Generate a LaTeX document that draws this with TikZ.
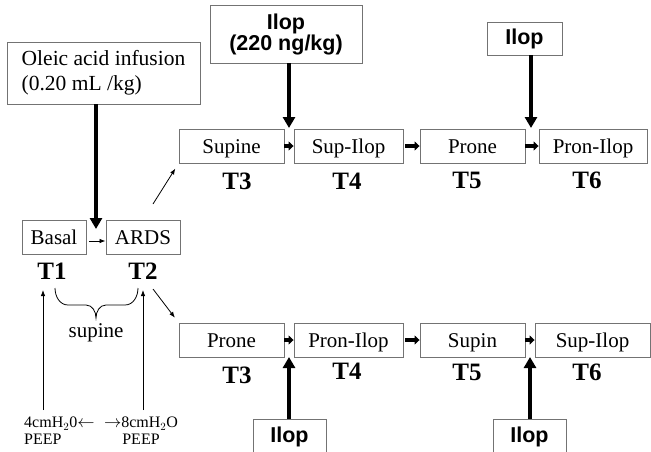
\documentclass[tikz,border=0pt]{standalone}
\usepackage{fontspec}
\setmainfont{Liberation Serif}
\newfontfamily\ilopfont{Liberation Sans}
\usepackage{xcolor}
\usetikzlibrary{arrows.meta}
\definecolor{boxgray}{RGB}{115,115,115}

\begin{document}
\begin{tikzpicture}[x=1pt,y=-1pt,
  phase/.style={draw=boxgray, line width=0.9pt, minimum height=34pt, inner sep=0pt, text height=14pt, text depth=0pt, font=\fontsize{21}{25}\selectfont},
  ilopbox/.style={draw=boxgray, line width=0.9pt, inner sep=0pt, align=center, font=\ilopfont\bfseries\fontsize{21.5}{21}\selectfont},
  tlabel/.style={inner sep=0pt, font=\fontsize{25}{28}\selectfont\bfseries},
  peep/.style={inner sep=0pt, font=\fontsize{16}{16.5}\selectfont},
  thinarrow/.style={-{Latex[length=6pt,width=4.5pt]}, line width=0.8pt},
  fatarrow/.style={-{Triangle[length=11pt,width=12pt]}, line width=3.5pt},
  shortarrow/.style={-{Triangle[length=5pt,width=9pt]}, line width=4pt}
]
\useasboundingbox (0,0) rectangle (651,451);
\clip (0,0) rectangle (651,451);

\node[draw=boxgray, line width=0.9pt, minimum width=193pt, minimum height=62pt, align=left, font=\fontsize{21.5}{25}\selectfont] (oleic) at (103.5,73) {Oleic acid infusion\\(0.20 mL /kg)};
\node[ilopbox, minimum width=152pt, minimum height=58pt] (ilopdose) at (286,34) {Ilop\\(220 ng/kg)};
\node[ilopbox, minimum width=75pt, minimum height=33pt] (iloptr) at (524.5,38.5) {Ilop};
\node[ilopbox, minimum width=73pt, minimum height=36pt] (ilopbl) at (289.5,437) {Ilop};
\node[ilopbox, minimum width=73pt, minimum height=36pt] (ilopbr) at (529.5,437) {Ilop};

\node[phase, minimum width=64pt] (basal) at (54,237) {Basal};
\node[phase, minimum width=74pt] (ards) at (143,237) {ARDS};

\node[phase, minimum width=105pt] (supA) at (231.5,146) {Supine};
\node[phase, minimum width=109pt] (supilopA) at (348.5,146) {Sup-Ilop};
\node[phase, minimum width=105pt] (proneA) at (472.5,146) {Prone};
\node[phase, minimum width=108pt] (pronilopA) at (593,146) {Pron-Ilop};

\node[phase, minimum width=105pt] (proneB) at (231.5,340) {Prone};
\node[phase, minimum width=109pt] (pronilopB) at (348.5,340) {Pron-Ilop};
\node[phase, minimum width=105pt] (supinB) at (472.5,340) {Supin};
\node[phase, minimum width=115pt] (supilopB) at (592.5,340) {Sup-Ilop};

\node[tlabel] (t1) at (52,271) {T1};
\node[tlabel] (t2) at (143,271) {T2};
\node[tlabel] (t3A) at (237,181) {T3};
\node[tlabel] (t4A) at (347,181) {T4};
\node[tlabel] (t5A) at (467,180) {T5};
\node[tlabel] (t6A) at (587,180) {T6};
\node[tlabel] (t3B) at (237,375) {T3};
\node[tlabel] (t4B) at (347,371) {T4};
\node[tlabel] (t5B) at (467,372) {T5};
\node[tlabel] (t6B) at (587,372) {T6};

\node[font=\fontsize{21}{25}\selectfont, inner sep=0pt] (supine) at (96,333) {supine};
\node[peep, align=left, anchor=north west] (peeplow) at (24,417) {4cmH$_2$0$\leftarrow$\\PEEP};
\node[peep, align=center, anchor=north] (peephigh) at (141,417) {$\rightarrow$8cmH$_2$O\\PEEP};

\coordinate (inj) at (96,229);
\coordinate (gapA) at (289,128);
\coordinate (gapC) at (531,128);
\coordinate (gapB) at (289,357);
\coordinate (gapD) at (530,357);
\coordinate (fromup) at (153,204);
\coordinate (fromdown) at (153,289);
\coordinate (peepa) at (43,410);
\coordinate (peepb) at (143,410);

\draw[fatarrow] (oleic.south -| inj) -- (inj);
\draw[fatarrow] (ilopdose.south -| gapA) -- (gapA);
\draw[fatarrow] (iloptr.south -| gapC) -- (gapC);
\draw[fatarrow] (ilopbl.north -| gapB) -- (gapB);
\draw[fatarrow] (ilopbr.north -| gapD) -- (gapD);

\draw[thinarrow, shorten <=3pt] ([yshift=-4pt]basal.east) -- ([yshift=-4pt]ards.west);
\draw[thinarrow, shorten >=6pt] (fromup) -- (supA.south west);
\draw[thinarrow, shorten >=6pt] (fromdown) -- (proneB.north west);
\draw[thinarrow] (peepa) -- (43,290);
\draw[thinarrow] (peepb) -- (143,290);

\draw[shortarrow] (supA.east) -- (supilopA.west);
\draw[shortarrow, shorten <=2pt] (supilopA.east) -- (proneA.west);
\draw[shortarrow] (proneA.east) -- (pronilopA.west);
\draw[shortarrow] (proneB.east) -- (pronilopB.west);
\draw[shortarrow, shorten <=2pt] (pronilopB.east) -- (supinB.west);
\draw[shortarrow] (supinB.east) -- (supilopB.west);

\draw[line width=0.8pt] (55,288) to[out=-90,in=180] (68,305) -- (86,305) to[out=0,in=90] (96,318)
  to[out=90,in=180] (106,305) -- (125,305) to[out=0,in=-90] (138,288);
\end{tikzpicture}
\end{document}
